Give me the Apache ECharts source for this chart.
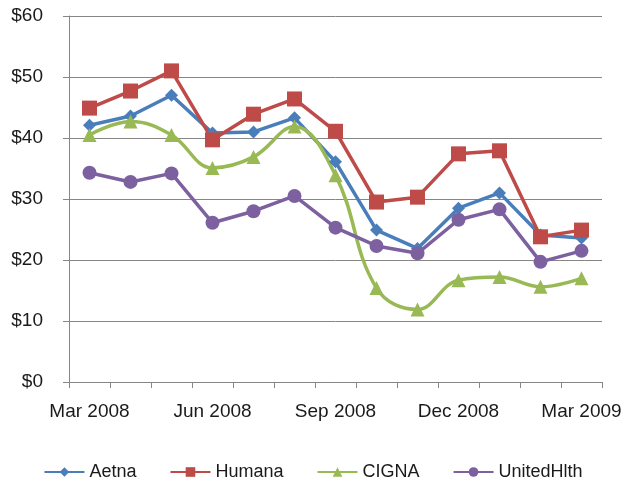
<!DOCTYPE html>
<html>
<head>
<meta charset="utf-8">
<script src="https://cdn.jsdelivr.net/npm/echarts@6/dist/echarts.min.js"></script>
<style>html,body{margin:0;padding:0;background:#fff}#c{width:626px;height:490px}</style>
</head>
<body>
<div id="c"></div>
<script>
const months = ['Mar 2008','Apr 2008','May 2008','Jun 2008','Jul 2008','Aug 2008','Sep 2008','Oct 2008','Nov 2008','Dec 2008','Jan 2009','Feb 2009','Mar 2009'];
const aetna = [42.1, 43.6, 47.0, 40.8, 41.0, 43.3, 36.1, 24.9, 21.9, 28.5, 31.0, 24.1, 23.6];
const humana = [44.9, 47.7, 51.0, 39.7, 43.9, 46.4, 41.1, 29.5, 30.3, 37.4, 37.9, 23.8, 24.9];
const cigna = [40.5, 42.7, 40.5, 35.1, 36.9, 41.9, 33.9, 15.4, 11.9, 16.7, 17.2, 15.6, 17.0];
const unitedhlth = [34.3, 32.8, 34.2, 26.1, 28.0, 30.5, 25.3, 22.3, 21.1, 26.6, 28.3, 19.7, 21.5];
const yTicks = { min: 0, max: 60, interval: 10 };

const chart = echarts.init(document.getElementById('c'));
const font = 'Liberation Sans, Arial, sans-serif';
function s(name, data, color, symbol, size, smooth) {
  return {
    name, type: 'line', data, smooth: smooth || false,
    symbol, symbolSize: size,
    lineStyle: { color, width: 3.5 },
    itemStyle: { color },
    emphasis: { disabled: true }
  };
}
chart.setOption({
  animation: false,
  textStyle: { fontFamily: font },
  grid: { left: 69, right: 24, top: 16, bottom: 108 },
  xAxis: {
    type: 'category', data: months, boundaryGap: true,
    axisLine: { lineStyle: { color: '#868686', width: 1 } },
    axisTick: { show: true, interval: 0, length: 6, lineStyle: { color: '#868686' } },
    axisLabel: { interval: 2, color: '#1a1a1a', fontSize: 19, margin: 20, fontFamily: font }
  },
  yAxis: {
    type: 'value', min: yTicks.min, max: yTicks.max, interval: yTicks.interval,
    axisLine: { show: true, lineStyle: { color: '#868686', width: 1 } },
    axisTick: { show: true, length: 6, lineStyle: { color: '#868686' } },
    splitLine: { lineStyle: { color: '#868686', width: 1 } },
    axisLabel: { color: '#1a1a1a', fontSize: 19, margin: 26, fontFamily: font, formatter: v => '$' + v }
  },
  legend: {
    bottom: 4, left: 'center',
    itemWidth: 40, itemHeight: 12, itemGap: 33,
    textStyle: { fontSize: 18, color: '#1a1a1a', fontFamily: font },
    data: ['Aetna','Humana','CIGNA','UnitedHlth']
  },
  series: [
    s('Aetna', aetna, '#4A7EBB', 'diamond', 13),
    s('Humana', humana, '#BE4B48', 'rect', 15),
    s('CIGNA', cigna, '#98B954', 'triangle', 14, 0.4),
    s('UnitedHlth', unitedhlth, '#7D60A0', 'circle', 14)
  ]
});
</script>
</body>
</html>
